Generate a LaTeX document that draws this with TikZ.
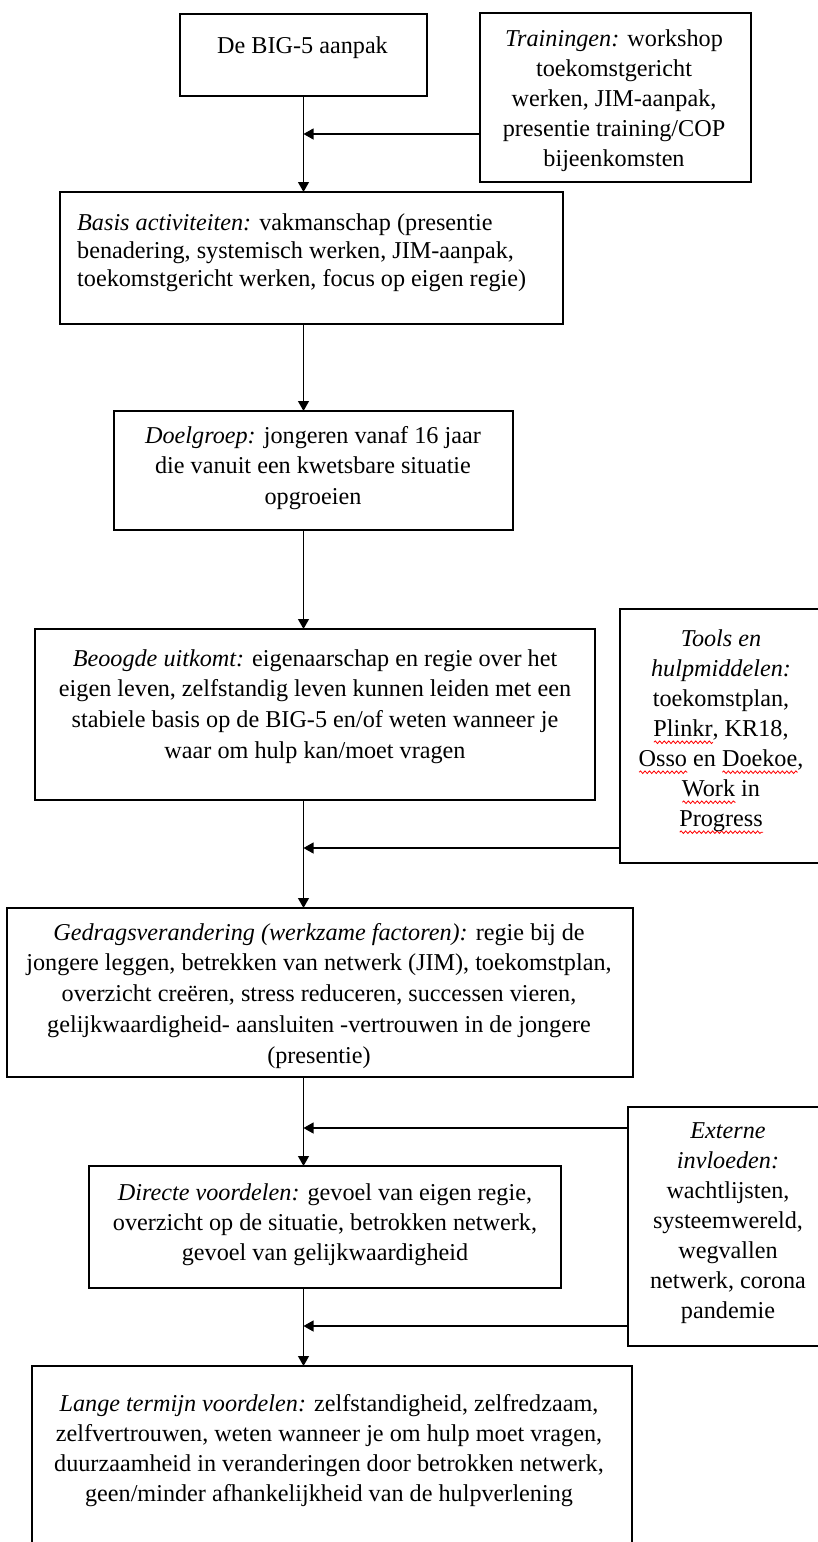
\documentclass[tikz,border=0pt]{standalone}
\usepackage{fontspec}
\setmainfont{Liberation Serif}
\usetikzlibrary{arrows.meta,decorations.pathmorphing}
\newcommand\spell[1]{\setbox0=\hbox{#1}\leavevmode\rlap{\tikz[baseline=0pt]\draw[red,line width=0.8pt,decorate,decoration={snake,amplitude=1.3pt,segment length=4.5pt}] (0pt,-6pt)--(\the\wd0,-6pt);}\box0\relax}
\newcommand\fstrut{\rule{0pt}{21pt}}
\newcommand\mybox[5]{\node[box, minimum width={#4-#2}, minimum height={#5-#3}, anchor=north west] (#1) at (#2,#3) {};}
\tikzset{
  box/.style={draw, line width=2.1pt, rectangle, inner sep=0pt, outer sep=0pt},
  txt/.style={inner sep=0pt, anchor=north, align=center},
  bs/.style={font={\fontsize{24.2}{#1}\selectfont}},
  arr/.style={line width=1.1pt, -{Triangle[length=10pt,width=11pt]}},
}
\begin{document}
\begin{tikzpicture}[x=1pt,y=-1pt]
\useasboundingbox (0,0) rectangle (818,1542);
% boxes
\mybox{b1}{180}{14}{427}{96}
\mybox{b2}{480}{13}{751}{182}
\mybox{b3}{60}{192}{563}{324}
\mybox{b4}{114}{411}{513}{530}
\mybox{b5}{35}{629}{595}{800}
\mybox{b6}{620}{609}{824}{863}
\mybox{b7}{7}{908}{633}{1077}
\mybox{b8}{628}{1107}{828}{1346}
\mybox{b9}{89}{1166}{561}{1288}
\mybox{b10}{32}{1366}{632}{1570}
% texts
\node[txt, bs=30] (t1) at (302.5,32) {\fstrut De BIG-5 aanpak};
\node[txt, bs=30] (t2) at (614,25) {\fstrut\textit{Trainingen:} workshop\\toekomstgericht\\werken, JIM-aanpak,\\presentie training/COP\\bijeenkomsten};
\node[txt, bs=28.3, anchor=north west, align=left] (t3) at (77,209) {\fstrut\textit{Basis activiteiten:} vakmanschap (presentie\\benadering, systemisch werken, JIM-aanpak,\\toekomstgericht werken, focus op eigen regie)};
\node[txt, bs=30.5] (t4) at (313,422) {\fstrut\textit{Doelgroep:} jongeren vanaf 16 jaar\\die vanuit een kwetsbare situatie\\opgroeien};
\node[txt, bs=30.7] (t5) at (315,645) {\fstrut\textit{Beoogde uitkomt:} eigenaarschap en regie over het\\eigen leven, zelfstandig leven kunnen leiden met een\\stabiele basis op de BIG-5 en/of weten wanneer je\\waar om hulp kan/moet vragen};
\node[txt, bs=30] (t6) at (721,625) {\fstrut\textit{Tools en}\\\textit{hulpmiddelen:}\\toekomstplan,\\\spell{Plinkr}, KR18,\\\spell{Osso} en \spell{Doekoe},\\\spell{Work} in\\\spell{Progress}};
\node[txt, bs=30.7] (t7) at (319,919) {\fstrut\textit{Gedragsverandering (werkzame factoren):} regie bij de\\jongere leggen, betrekken van netwerk (JIM), toekomstplan,\\overzicht creëren, stress reduceren, successen vieren,\\gelijkwaardigheid- aansluiten -vertrouwen in de jongere\\(presentie)};
\node[txt, bs=30] (t8) at (728,1117) {\fstrut\textit{Externe}\\\textit{invloeden:}\\wachtlijsten,\\systeemwereld,\\wegvallen\\netwerk, corona\\pandemie};
\node[txt, bs=30] (t9) at (325,1179) {\fstrut\textit{Directe voordelen:} gevoel van eigen regie,\\overzicht op de situatie, betrokken netwerk,\\gevoel van gelijkwaardigheid};
\node[txt, bs=30] (t10) at (329,1390) {\fstrut\textit{Lange termijn voordelen:} zelfstandigheid, zelfredzaam,\\zelfvertrouwen, weten wanneer je om hulp moet vragen,\\duurzaamheid in veranderingen door betrokken netwerk,\\geen/minder afhankelijkheid van de hulpverlening};
% junctions on the main line
\coordinate (j1) at (303.5,134);
\coordinate (j2) at (303.5,848);
\coordinate (j3) at (303.5,1128);
\coordinate (j4) at (303.5,1326);
% vertical connectors
\draw[arr] (b1.south) -- (b1.south |- b3.north);
\draw[arr] (b1.south |- b3.south) -- (b1.south |- b4.north);
\draw[arr] (b1.south |- b4.south) -- (b1.south |- b5.north);
\draw[arr] (b1.south |- b5.south) -- (b1.south |- b7.north);
\draw[arr] (b1.south |- b7.south) -- (b1.south |- b9.north);
\draw[arr] (b1.south |- b9.south) -- (b1.south |- b10.north);
% side inputs
\draw[arr] (b2.west |- j1) -- (j1);
\draw[arr] (b6.west |- j2) -- (j2);
\draw[arr] (b8.west |- j3) -- (j3);
\draw[arr] (b8.west |- j4) -- (j4);
\end{tikzpicture}
\end{document}
